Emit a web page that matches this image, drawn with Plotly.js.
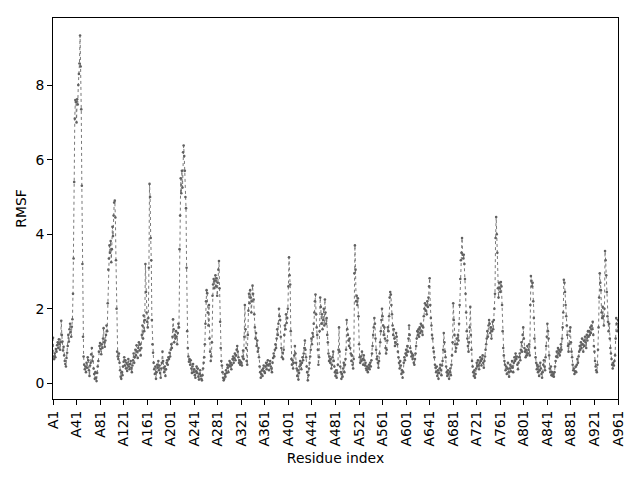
<!DOCTYPE html>
<html>
<head>
<meta charset="utf-8">
<script src="https://cdn.plot.ly/plotly-3.0.1.min.js"></script>
<style>
  html, body { margin: 0; padding: 0; background: white; }
  #chart { width: 640px; height: 480px; }
</style>
</head>
<body>
<div id="chart"></div>
<script>
// Chain and tick spacing for the residue axis
const chainId = 'A';
const tickStep = 40;

// RMSF per residue (A1 ... A961)
const rmsf = [
  // A1 - A40
  1.22, 0.72, 0.65, 0.80, 0.70, 0.92, 0.85, 1.02, 1.10, 0.95, 1.18, 1.05, 0.90, 1.10, 1.68, 1.30, 1.12, 0.88, 0.98, 0.75,
  0.60, 0.52, 0.45, 0.68, 0.82, 1.00, 1.30, 1.12, 1.45, 1.60, 1.38, 1.25, 1.52, 1.72, 2.40, 3.35, 5.40, 7.10, 7.60, 7.55,
  // A41 - A80
  7.00, 7.62, 7.48, 8.00, 8.30, 8.58, 9.33, 8.50, 7.35, 5.30, 3.20, 1.25, 0.72, 0.50, 0.38, 0.45, 0.30, 0.55, 0.42, 0.70,
  0.62, 0.35, 0.20, 0.48, 0.55, 0.78, 0.95, 0.60, 0.72, 0.40, 0.25, 0.12, 0.30, 0.15, 0.06, 0.28, 0.45, 0.60, 0.85, 1.00,
  // A81 - A120
  1.08, 0.92, 0.78, 1.05, 0.95, 1.20, 1.48, 1.10, 0.98, 1.15, 1.30, 1.55, 1.40, 2.15, 3.05, 3.35, 3.70, 3.50, 3.82, 3.25,
  3.60, 4.20, 3.95, 4.50, 4.85, 4.90, 4.45, 3.30, 2.00, 0.85, 0.72, 0.65, 0.80, 0.55, 0.35, 0.18, 0.12, 0.30, 0.22, 0.45,
  // A121 - A160
  0.58, 0.70, 0.48, 0.62, 0.40, 0.55, 0.33, 0.50, 0.65, 0.45, 0.38, 0.52, 0.60, 0.42, 0.30, 0.48, 0.62, 0.80, 0.55, 0.70,
  0.90, 0.75, 1.02, 0.85, 0.68, 0.95, 1.10, 0.88, 1.05, 0.75, 0.95, 1.30, 1.55, 1.20, 1.82, 1.40, 1.70, 3.20, 2.45, 1.90,
  // A161 - A200
  1.65, 1.50, 1.75, 3.10, 5.35, 5.00, 3.90, 3.30, 1.70, 1.05, 0.82, 0.55, 0.38, 0.25, 0.45, 0.12, 0.30, 0.50, 0.42, 0.60,
  0.35, 0.48, 0.28, 0.15, 0.40, 0.55, 0.85, 0.60, 0.42, 0.30, 0.45, 0.20, 0.38, 0.55, 0.62, 0.50, 0.70, 0.65, 0.82, 0.72,
  // A201 - A240
  0.90, 1.05, 0.95, 1.25, 1.72, 1.45, 1.10, 1.30, 1.20, 1.40, 1.25, 1.05, 1.35, 1.60, 1.50, 3.60, 4.50, 5.50, 5.10, 5.70,
  5.25, 6.20, 6.38, 6.10, 5.70, 5.00, 4.70, 3.10, 1.40, 0.95, 0.72, 0.58, 0.65, 0.50, 0.62, 0.40, 0.28, 0.45, 0.52, 0.30,
  // A241 - A280
  0.38, 0.22, 0.15, 0.32, 0.45, 0.28, 0.40, 0.18, 0.10, 0.25, 0.35, 0.20, 0.12, 0.08, 0.22, 0.40, 0.55, 0.70, 1.05, 1.60,
  2.20, 2.50, 2.42, 1.90, 1.55, 2.10, 1.20, 0.85, 0.60, 0.72, 1.10, 2.35, 2.65, 2.80, 2.55, 2.75, 2.90, 2.60, 2.82, 2.35,
  // A281 - A320
  2.70, 3.05, 3.28, 2.55, 1.65, 0.95, 0.60, 0.48, 0.30, 0.15, 0.08, 0.12, 0.25, 0.18, 0.35, 0.28, 0.50, 0.42, 0.30, 0.48,
  0.60, 0.45, 0.55, 0.38, 0.50, 0.65, 0.72, 0.55, 0.68, 0.80, 0.62, 0.75, 0.90, 1.00, 0.85, 0.70, 0.55, 0.62, 0.50, 0.58,
  // A321 - A360
  0.55, 0.48, 0.72, 0.88, 0.65, 1.25, 2.10, 1.45, 0.95, 0.60, 0.50, 1.30, 1.95, 2.40, 2.15, 2.50, 2.30, 1.90, 2.20, 2.62,
  2.40, 2.25, 1.85, 1.50, 1.20, 1.35, 1.00, 1.15, 0.85, 0.95, 0.70, 0.45, 0.30, 0.15, 0.25, 0.35, 0.20, 0.40, 0.48, 0.32,
  // A361 - A400
  0.28, 0.45, 0.55, 0.38, 0.50, 0.62, 0.48, 0.35, 0.52, 0.60, 0.45, 0.40, 0.30, 0.55, 0.68, 0.80, 0.72, 0.90, 1.05, 0.95,
  1.20, 1.45, 1.30, 1.60, 2.00, 1.80, 1.70, 1.25, 0.95, 0.70, 0.82, 0.65, 0.90, 1.30, 1.55, 1.45, 1.85, 1.62, 1.75, 2.00,
  // A401 - A440
  2.60, 3.38, 2.90, 2.65, 1.40, 0.65, 0.50, 0.62, 0.40, 0.55, 0.75, 1.00, 0.80, 0.55, 0.40, 0.20, 0.35, 0.10, 0.28, 0.45,
  0.60, 0.50, 0.38, 0.55, 0.70, 0.62, 0.80, 0.95, 1.15, 0.90, 0.70, 0.45, 0.30, 0.08, 0.22, 0.40, 0.55, 0.72, 0.90, 1.20,
  // A441 - A480
  1.05, 1.35, 1.25, 1.60, 1.90, 2.20, 2.38, 1.85, 1.50, 1.30, 0.90, 0.50, 0.70, 1.40, 2.30, 2.05, 1.60, 1.85, 1.45, 1.70,
  2.00, 1.55, 2.25, 1.90, 1.60, 1.75, 1.30, 1.10, 0.80, 0.60, 0.72, 0.55, 0.65, 0.40, 0.50, 0.70, 0.85, 0.60, 0.45, 0.30,
  // A481 - A520
  0.20, 0.35, 0.15, 0.28, 0.50, 0.90, 1.50, 0.85, 0.45, 0.30, 0.12, 0.25, 0.18, 0.40, 0.55, 0.30, 0.50, 0.65, 0.90, 1.70,
  1.45, 1.30, 1.15, 1.00, 1.20, 0.95, 0.80, 0.60, 0.75, 0.50, 0.40, 0.65, 2.95, 3.70, 3.05, 2.20, 2.35, 2.10, 2.28, 1.80,
  // A521 - A560
  1.05, 0.70, 0.55, 0.72, 0.60, 0.85, 0.65, 0.50, 0.75, 0.62, 0.48, 0.55, 0.40, 0.35, 0.45, 0.30, 0.42, 0.50, 0.38, 0.55,
  0.45, 0.62, 0.80, 1.00, 1.30, 1.50, 1.75, 1.60, 1.20, 0.90, 0.65, 0.72, 0.55, 0.42, 0.60, 0.80, 1.10, 1.40, 1.70, 2.00,
  // A561 - A600
  1.80, 1.55, 1.30, 1.50, 1.20, 0.95, 0.80, 0.90, 1.15, 1.50, 1.40, 1.80, 2.30, 2.45, 2.38, 2.10, 1.85, 1.55, 1.30, 1.45,
  1.20, 1.00, 1.10, 1.35, 1.25, 1.05, 0.85, 0.70, 0.55, 0.40, 0.60, 0.48, 0.25, 0.35, 0.15, 0.30, 0.55, 0.70, 0.62, 0.80,
  // A601 - A640
  0.90, 0.75, 1.00, 0.85, 1.20, 1.55, 1.30, 0.95, 0.85, 0.72, 0.80, 0.65, 0.75, 0.55, 0.50, 0.65, 0.80, 1.00, 1.20, 1.40,
  1.30, 1.45, 1.25, 1.50, 1.35, 1.60, 1.40, 1.55, 1.30, 1.50, 1.80, 2.00, 2.15, 1.95, 2.10, 1.85, 2.20, 2.05, 2.30, 2.60,
  // A641 - A680
  2.82, 2.10, 1.75, 1.55, 1.30, 1.20, 0.95, 0.85, 0.70, 0.50, 0.42, 0.30, 0.45, 0.20, 0.35, 0.12, 0.28, 0.40, 0.50, 0.35,
  0.22, 0.48, 0.60, 0.90, 1.35, 1.10, 0.85, 0.70, 0.45, 0.30, 0.20, 0.35, 0.25, 0.12, 0.30, 0.40, 0.22, 0.50, 0.75, 1.10,
  // A681 - A720
  2.15, 1.70, 1.30, 1.05, 0.85, 0.95, 1.20, 1.05, 1.30, 1.15, 1.60, 2.10, 2.80, 3.30, 3.50, 3.90, 3.45, 3.35, 3.45, 3.20,
  2.80, 2.40, 1.90, 1.40, 1.20, 1.00, 0.85, 1.10, 1.50, 2.05, 1.30, 0.90, 0.60, 0.45, 0.30, 0.20, 0.35, 0.15, 0.25, 0.40,
  // A721 - A760
  0.55, 0.45, 0.62, 0.50, 0.38, 0.55, 0.70, 0.60, 0.48, 0.65, 0.75, 0.55, 0.42, 0.60, 0.72, 0.90, 1.05, 1.20, 1.40, 1.25,
  1.55, 1.70, 1.60, 1.35, 1.50, 1.20, 1.40, 1.65, 1.45, 1.70, 2.00, 2.40, 3.90, 4.46, 4.00, 3.50, 2.55, 2.30, 2.70, 2.55,
  // A761 - A800
  2.45, 2.72, 2.60, 2.10, 1.40, 0.95, 0.75, 0.60, 0.50, 0.35, 0.45, 0.25, 0.40, 0.55, 0.30, 0.18, 0.40, 0.50, 0.32, 0.45,
  0.60, 0.42, 0.30, 0.55, 0.70, 0.60, 0.80, 0.65, 0.72, 0.50, 0.38, 0.55, 0.70, 0.80, 0.62, 0.90, 1.10, 0.85, 1.30, 1.50,
  // A801 - A840
  1.20, 0.95, 0.85, 0.70, 0.90, 0.75, 1.00, 0.80, 0.90, 1.05, 0.75, 2.10, 2.88, 2.75, 2.60, 2.70, 2.20, 1.75, 1.20, 0.95,
  0.70, 0.55, 0.38, 0.50, 0.30, 0.45, 0.20, 0.35, 0.55, 0.40, 0.25, 0.15, 0.30, 0.50, 0.62, 0.45, 0.35, 0.70, 1.00, 1.25,
  // A841 - A880
  1.60, 1.40, 1.20, 0.75, 0.40, 0.30, 0.45, 0.22, 0.30, 0.20, 0.25, 0.18, 0.30, 0.45, 0.60, 0.72, 0.85, 0.70, 0.95, 0.80,
  0.90, 0.75, 0.85, 1.05, 0.90, 1.20, 1.50, 1.90, 2.78, 2.70, 2.45, 2.10, 1.80, 1.55, 1.30, 1.00, 0.85, 1.05, 1.40, 1.50,
  // A881 - A920
  1.10, 0.85, 0.70, 0.50, 0.35, 0.40, 0.25, 0.32, 0.45, 0.30, 0.50, 0.65, 0.55, 0.72, 0.85, 1.00, 0.90, 1.10, 0.95, 1.20,
  1.05, 0.85, 1.15, 1.00, 1.25, 1.10, 0.95, 1.30, 1.15, 1.40, 1.25, 1.40, 1.30, 1.50, 1.35, 1.55, 1.45, 1.65, 1.30, 1.00,
  // A921 - A961
  0.85, 0.60, 0.45, 0.35, 0.30, 0.50, 0.90, 1.50, 2.30, 2.95, 2.70, 2.50, 1.90, 1.75, 2.05, 1.80, 1.55, 2.00, 3.55, 3.30,
  2.90, 2.45, 1.80, 1.65, 1.40, 1.60, 1.20, 0.95, 0.80, 0.65, 0.50, 0.40, 0.55, 0.48, 0.60, 0.75, 1.20, 1.75, 1.60, 1.40,
  1.70
];

// x positions are residue indices, labels are chain + residue number
const residueIndex = rmsf.map((v, i) => i);
const residueLabel = rmsf.map((v, i) => chainId + (i + 1));

const tickVals = [];
const tickText = [];
for (let i = 0; i < rmsf.length; i += tickStep) {
    tickVals.push(i);
    tickText.push(residueLabel[i]);
}

const font = 'DejaVu Sans, sans-serif';

const trace = {
    x: residueIndex,
    y: rmsf,
    text: residueLabel,
    type: 'scatter',
    mode: 'lines+markers',
    line: { color: '#6a6a6a', width: 0.9, dash: 'dot' },
    marker: { color: '#606060', size: 2.6 },
    hovertemplate: '%{text}: %{y:.2f}<extra></extra>'
};

const layout = {
    width: 640,
    height: 480,
    margin: { l: 53, r: 22, t: 18, b: 81 },
    paper_bgcolor: 'white',
    plot_bgcolor: 'white',
    showlegend: false,
    font: { family: font, size: 13.9, color: 'black' },
    xaxis: {
        range: [0, rmsf.length - 1],
        tickmode: 'array',
        tickvals: tickVals,
        ticktext: tickText,
        tickangle: -90,
        ticks: 'outside',
        ticklen: 5,
        tickwidth: 1,
        tickcolor: 'black',
        showgrid: false,
        zeroline: false,
        showline: true,
        mirror: true,
        linecolor: 'black',
        linewidth: 1,
        title: { text: 'Residue index', font: { family: font, size: 13.9 }, standoff: 7 }
    },
    yaxis: {
        range: [-0.42, 9.8],
        tickvals: [0, 2, 4, 6, 8],
        ticks: 'outside',
        ticklen: 5,
        tickwidth: 1,
        tickcolor: 'black',
        showgrid: false,
        zeroline: false,
        showline: true,
        mirror: true,
        linecolor: 'black',
        linewidth: 1,
        title: { text: 'RMSF', font: { family: font, size: 13.9 }, standoff: 5 }
    }
};

Plotly.newPlot('chart', [trace], layout, { staticPlot: true });
</script>
</body>
</html>
